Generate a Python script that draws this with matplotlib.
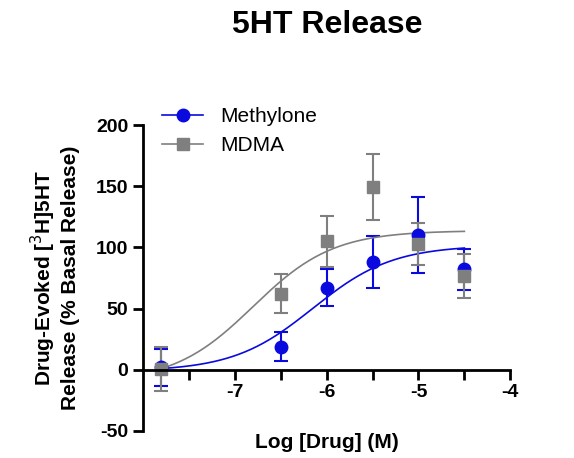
import numpy as np
import matplotlib
matplotlib.use("Agg")
import matplotlib.pyplot as plt

plt.rcParams['font.family'] = ['Arial', 'Liberation Sans', 'DejaVu Sans']
plt.rcParams['axes.unicode_minus'] = False

x = [-7.8, -6.5, -6.0, -5.5, -5.0, -4.5]
meth = [2, 19, 67, 88, 110, 82]
meth_err = [15, 12, 15, 21, 31, 17]
mdma = [1, 62, 105, 149, 103, 77]
mdma_err = [18, 16, 21, 27, 17, 18]
# fitted curve parameters (bottom, top, logEC50)
meth_fit = (-3, 100, -6.15)
mdma_fit = (-12, 112, -6.8)

fig = plt.figure(figsize=(5.74, 4.58), dpi=100)
ax = fig.add_axes([0.249, 0.059, 0.64, 0.668])
blue = '#0a0adf'
grey = '#7f7f7f'
xc = np.linspace(-7.8, -4.5, 200)
for y, e, fit, c, m, lab in [(meth, meth_err, meth_fit, blue, 'o', 'Methylone'),
                             (mdma, mdma_err, mdma_fit, grey, 's', 'MDMA')]:
    yc = fit[0] + (fit[1] - fit[0]) / (1 + 10 ** (fit[2] - xc))
    yc = yc - yc[0] + 1
    ax.plot(xc, yc, color=c, lw=1.2)
    ax.errorbar(x, y, yerr=e, fmt=m, color=c, ms=9, capsize=5, elinewidth=1.5, capthick=1.5)
    ax.plot([], [], marker=m, color=c, ms=9, lw=1.2, label=lab)

ax.set_xlim(-8, -4)
ax.set_ylim(-50, 200)
ax.set_xticks([-7, -6, -5, -4])
ax.set_xticks(np.arange(-7.5, -4.4, 1.0), minor=True)
ax.set_yticks([-50, 0, 50, 100, 150, 200])
ax.spines['bottom'].set_position(('data', 0))
for s in ['top', 'right']:
    ax.spines[s].set_visible(False)
for s in ['bottom', 'left']:
    ax.spines[s].set_linewidth(2)
ax.tick_params(width=2, length=7, labelsize=14)
ax.tick_params(which='minor', width=2, length=7)
for t in ax.get_xticklabels() + ax.get_yticklabels():
    t.set_fontweight('bold')
ax.set_xlabel('Log [Drug] (M)', fontsize=15, fontweight='bold')
ax.xaxis.set_label_coords(0.5, -0.005)
ax.set_ylabel('Drug-Evoked [$^3$H]5HT\nRelease (% Basal Release)', fontsize=15, fontweight='bold')
ax.yaxis.set_label_coords(-0.17, 0.5)
ax.legend(loc='upper left', bbox_to_anchor=(0.0, 1.12), frameon=False, fontsize=15, handlelength=2)
fig.text(0.57, 0.945, '5HT Release', ha='center', va='center', fontsize=23, fontweight='bold')
fig.savefig('out.png', dpi=100)
